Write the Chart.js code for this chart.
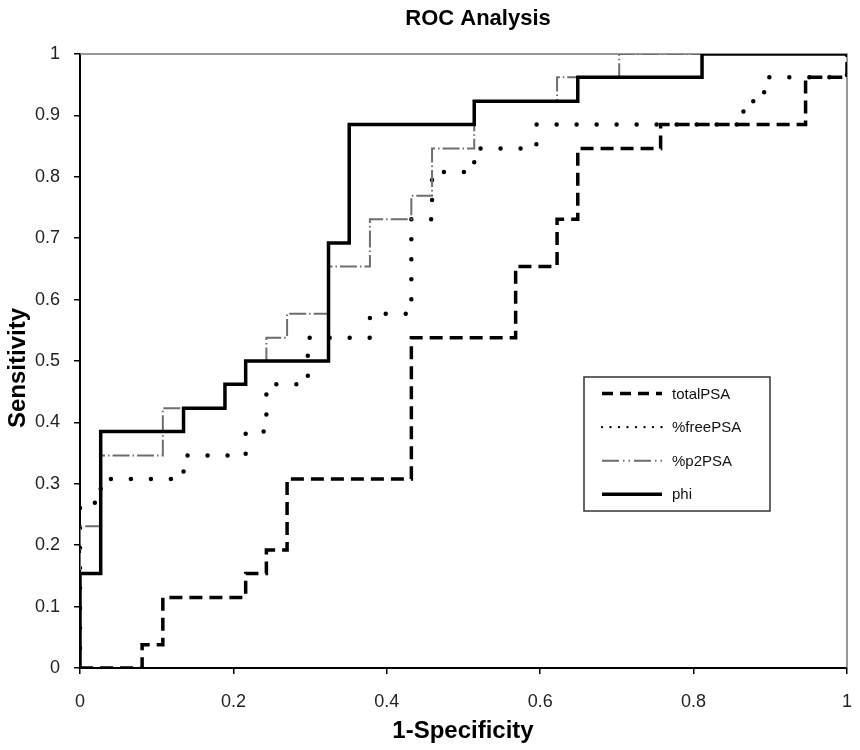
<!DOCTYPE html>
<html>
<head>
<meta charset="utf-8">
<title>ROC Analysis</title>
<script src="https://cdn.jsdelivr.net/npm/chart.js@4.4.0/dist/chart.umd.min.js"></script>
<style>
    html, body { margin: 0; padding: 0; background: #fff; }
    #wrap { width: 860px; height: 750px; }
</style>
</head>
<body>
<div id="wrap"><canvas id="rocChart" width="860" height="750"></canvas></div>
<script>
// ROC curve data (1-Specificity, Sensitivity)
const totalFpr = [0, 0.081, 0.108, 0.216, 0.243, 0.270, 0.432, 0.568, 0.622, 0.649, 0.757, 0.946, 1];
const totalTpr = [0, 0.038, 0.115, 0.154, 0.192, 0.308, 0.538, 0.654, 0.731, 0.846, 0.885, 0.962, 1];

const freeFpr = [0, 0, 0.027, 0.135, 0.216, 0.243, 0.297, 0.378, 0.432, 0.459, 0.514, 0.595, 0.865, 0.892, 1];
const freeTpr = [0, 0.269, 0.308, 0.346, 0.385, 0.462, 0.538, 0.577, 0.731, 0.808, 0.846, 0.885, 0.923, 0.962, 1];

const p2Fpr = [0, 0, 0.027, 0.108, 0.189, 0.216, 0.243, 0.270, 0.324, 0.378, 0.432, 0.459, 0.514, 0.622, 0.703, 1];
const p2Tpr = [0, 0.231, 0.346, 0.423, 0.462, 0.500, 0.538, 0.577, 0.654, 0.731, 0.769, 0.846, 0.923, 0.962, 1, 1];

const phiFpr = [0, 0, 0.027, 0.135, 0.189, 0.216, 0.324, 0.351, 0.514, 0.649, 0.811, 1];
const phiTpr = [0, 0.154, 0.385, 0.423, 0.462, 0.500, 0.692, 0.885, 0.923, 0.962, 1, 1];

const seriesNames = ['totalPSA', '%freePSA', '%p2PSA', 'phi'];
const xTicks = [0, 0.2, 0.4, 0.6, 0.8, 1];

const FONT = '"Liberation Sans", Arial, Helvetica, sans-serif';

function toPoints(xs, ys) {
    return xs.map((x, i) => ({ x: x, y: ys[i] }));
}

// 0, 0.1, ... 1 (no trailing zeros)
function tickLabel(v) {
    return String(Math.round(v * 10) / 10);
}

// Frame, titles and legend drawn on top of the chart
const decorPlugin = {
    id: 'decor',
    beforeDatasetsDraw(chart) {
        const { ctx, chartArea: a } = chart;
        ctx.save();
        ctx.strokeStyle = '#777';
        ctx.lineWidth = 1.5;
        ctx.beginPath();
        ctx.moveTo(a.left, a.top);
        ctx.lineTo(a.right, a.top);
        ctx.lineTo(a.right, a.bottom);
        ctx.stroke();
        ctx.restore();
    },
    afterDraw(chart) {
        const { ctx } = chart;
        ctx.save();
        ctx.fillStyle = '#000';

        // chart title
        ctx.font = 'bold 22px ' + FONT;
        ctx.textAlign = 'center';
        ctx.textBaseline = 'alphabetic';
        ctx.fillText('ROC Analysis', 478, 25);

        // axis titles
        ctx.font = 'bold 24px ' + FONT;
        ctx.fillText('1-Specificity', 463, 738);
        ctx.save();
        ctx.translate(25, 368);
        ctx.rotate(-Math.PI / 2);
        ctx.fillText('Sensitivity', 0, 0);
        ctx.restore();

        // legend box
        const bx = 584, by = 377, bw = 186, bh = 134;
        ctx.fillStyle = '#fff';
        ctx.fillRect(bx, by, bw, bh);
        ctx.strokeStyle = '#333';
        ctx.lineWidth = 1.5;
        ctx.strokeRect(bx, by, bw, bh);

        const samples = [
            { color: '#000', width: 3.5, dash: [11, 7], cap: 'butt' },
            { color: '#000', width: 2.4, dash: [0, 8.5], cap: 'round' },
            { color: '#6e6e6e', width: 2, dash: [17, 4, 1.5, 4, 1.5, 4], cap: 'butt' },
            { color: '#000', width: 3.5, dash: [], cap: 'butt' }
        ];
        ctx.font = '15px ' + FONT;
        ctx.textAlign = 'left';
        ctx.textBaseline = 'middle';
        seriesNames.forEach((name, i) => {
            const y = 393.5 + i * 33.6;
            const s = samples[i];
            ctx.strokeStyle = s.color;
            ctx.lineWidth = s.width;
            ctx.lineCap = s.cap;
            ctx.setLineDash(s.dash);
            ctx.beginPath();
            ctx.moveTo(602, y);
            ctx.lineTo(662, y);
            ctx.stroke();
            ctx.setLineDash([]);
            ctx.fillStyle = '#111';
            ctx.fillText(name, 672, y + 1);
        });
        ctx.restore();
    }
};

const rocCtx = document.getElementById('rocChart').getContext('2d');
const rocChart = new Chart(rocCtx, {
    type: 'line',
    data: {
        datasets: [
            {
                label: seriesNames[0],
                data: toPoints(totalFpr, totalTpr),
                borderColor: '#000',
                borderWidth: 3.5,
                borderDash: [13, 7],
                stepped: 'before',
                order: 1
            },
            {
                label: seriesNames[1],
                data: toPoints(freeFpr, freeTpr),
                borderColor: '#000',
                borderWidth: 4.5,
                borderDash: [0, 20],
                borderCapStyle: 'round',
                stepped: 'before',
                order: 3
            },
            {
                label: seriesNames[2],
                data: toPoints(p2Fpr, p2Tpr),
                borderColor: '#6e6e6e',
                borderWidth: 2,
                borderDash: [17, 3, 1.5, 3],
                stepped: 'before',
                order: 2
            },
            {
                label: seriesNames[3],
                data: toPoints(phiFpr, phiTpr),
                borderColor: '#000',
                borderWidth: 3.5,
                stepped: 'before',
                order: 0
            }
        ]
    },
    options: {
        responsive: false,
        animation: false,
        layout: {
            padding: { top: 54, right: 13, left: 0, bottom: 0 }
        },
        elements: {
            point: { radius: 0, hoverRadius: 0 },
            line: { tension: 0 }
        },
        plugins: {
            legend: { display: false },
            title: { display: false },
            tooltip: { enabled: false }
        },
        scales: {
            x: {
                type: 'linear',
                min: 0,
                max: 1,
                afterFit: (scale) => {
                    scale.height = 82;
                    scale.paddingLeft = 0;
                    scale.paddingRight = 0;
                },
                afterBuildTicks: (scale) => { scale.ticks = xTicks.map(v => ({ value: v })); },
                grid: { drawOnChartArea: false, drawTicks: true, tickLength: 6, color: '#000', lineWidth: 1.5 },
                border: { color: '#000', width: 2 },
                ticks: {
                    padding: 17,
                    color: '#222',
                    font: { family: FONT, size: 18 },
                    maxRotation: 0,
                    callback: tickLabel
                }
            },
            y: {
                min: 0,
                max: 1,
                afterFit: (scale) => {
                    scale.width = 80;
                    scale.paddingTop = 0;
                    scale.paddingBottom = 0;
                },
                grid: { drawOnChartArea: false, drawTicks: true, tickLength: 6, color: '#000', lineWidth: 1.5 },
                border: { color: '#000', width: 2 },
                ticks: {
                    stepSize: 0.1,
                    padding: 14,
                    color: '#222',
                    font: { family: FONT, size: 18 },
                    callback: tickLabel
                }
            }
        }
    },
    plugins: [decorPlugin]
});
</script>
</body>
</html>
